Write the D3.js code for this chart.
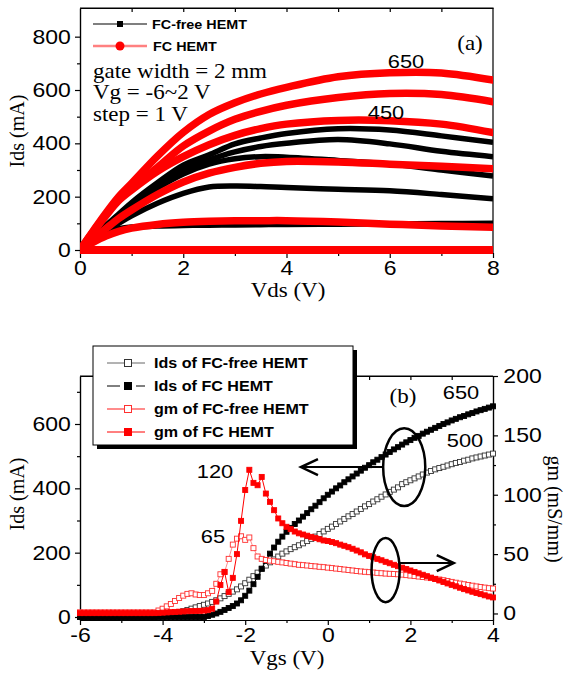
<!DOCTYPE html>
<html>
<head>
<meta charset="utf-8">
<script src="https://cdn.jsdelivr.net/npm/d3@7"></script>
<style>
  body { margin: 0; background: #fff; }
</style>
</head>
<body>
<svg id="chart" width="566" height="673"></svg>
<script>
// ---------- (a) output curves, Ids vs Vds ----------
var vds = [0, 0.25, 0.5, 0.75, 1, 1.5, 2, 2.5, 3, 3.5, 4, 5, 6, 7, 8];

// FC-free HEMT (black), Vg = 2, 1, 0, -1, -2 V, the rest is pinched off
var freeVg2  = [0, 48, 92, 135, 178, 252, 318, 357, 398, 420, 437, 455, 450, 428, 404];
var freeVg1  = [0, 46, 90, 132, 172, 242, 300, 338, 368, 388, 400, 414, 398, 370, 350];
var freeVg0  = [0, 45, 88, 128, 168, 232, 285, 322, 342, 350, 348, 336, 322, 300, 277];
var freeVgM1 = [0, 38, 70, 100, 128, 175, 212, 236, 240, 238, 234, 228, 222, 208, 192];
var freeVgM2 = [0, 40, 68, 80, 86, 90, 92, 93, 94, 95, 96, 97, 98, 99, 100];
var freeOff  = [0, 0, 0, 0, 0, 0, 0, 0, 0, 0, 0, 0, 0, 0, 0];

// FC HEMT (red)
var fcVg2  = [0, 70, 138, 200, 250, 352, 441, 508, 552, 585, 610, 650, 665, 664, 637];
var fcVg1  = [0, 68, 132, 190, 232, 310, 390, 446, 490, 520, 543, 572, 587, 583, 556];
var fcVg0  = [0, 66, 128, 185, 225, 295, 350, 395, 430, 455, 472, 486, 485, 472, 440];
var fcVgM1 = [0, 42, 80, 118, 150, 208, 255, 288, 310, 325, 332, 330, 322, 314, 305];
var fcVgM2 = [0, 28, 52, 70, 82, 96, 104, 108, 110, 110, 110, 105, 97, 90, 85];
var fcOff  = [0, 0, 0, 0, 0, 0, 0, 0, 0, 0, 0, 0, 0, 0, 0];

// ---------- (b) transfer curves, Vgs sweep -6 .. 4 V in 0.1 V steps ----------
var vgs = d3.range(-60, 41).map(function(d) { return d / 10; });

var idsFree = [0, 0, 0, 0, 0, 0, 0, 0, 0, 0, 0, 0, 0, 0, 0, 0, 0, 0, 0,
  2, 3, 5, 8, 11, 15, 18, 22, 26, 30, 34, 38,
  42, 47, 52, 58, 65, 72, 79, 86, 95, 105,
  116, 127, 138, 150, 160, 170, 179, 188, 197, 204,
  211, 217, 223, 229, 236, 243, 250, 258, 266, 274,
  281, 289, 297, 305, 313, 320, 328, 336, 344, 351,
  359, 366, 374, 381, 389, 396, 403, 413, 419, 425,
  431, 437, 443, 449, 454, 459, 463, 467, 471, 475,
  479, 482, 486, 489, 493, 496, 499, 502, 505, 508];

var idsFc = [0, 0, 0, 0, 0, 0, 0, 0, 0, 0, 0, 0, 0, 0, 0, 0, 0, 0, 0, 0,
  0, 0, 0, 0, 0, 0, 0, 0, 0, 0, 0,
  3, 7, 11, 16, 22, 28, 34, 42, 52, 66,
  82, 102, 125, 150, 175, 197, 216, 234, 250, 265,
  277, 289, 300, 312, 323, 335, 346, 357, 369, 380,
  390, 400, 409, 419, 428, 437, 446, 455, 464, 472,
  481, 489, 497, 505, 513, 521, 528, 536, 543, 550,
  557, 563, 570, 576, 582, 588, 594, 600, 605, 611,
  616, 621, 625, 630, 634, 639, 643, 647, 651, 655];

var gmFree = [1, 1, 1, 1, 1, 1, 1, 1, 1, 1, 1, 1, 1, 1, 1, 1, 1, 1, 1,
  2.5, 4, 6, 8, 10.5, 13, 15, 16.5, 17, 16, 15.5, 15.5,
  17, 19, 25, 33, 35, 46, 58, 63, 65, 62,
  64, 55, 48, 46, 45, 44.5, 44, 43.5, 43, 42.5,
  42, 41.5, 41, 40.7, 40.4, 40, 39.7, 39.3, 39, 38.6,
  38.2, 37.8, 37.4, 37, 36.6, 36.2, 35.8, 35.4, 35.1, 34.8,
  34.5, 34.2, 33.9, 33.6, 33.4, 33.2, 33, 32.7, 32.3, 31.9,
  31.5, 31.1, 30.7, 30.3, 29.8, 29.2, 28.6, 28, 27.3, 26.6,
  25.9, 25.2, 24.6, 24, 23.4, 22.8, 22.3, 21.8, 21.3, 21];

var gmFc = [0.3, 0.3, 0.3, 0.3, 0.3, 0.3, 0.3, 0.3, 0.3, 0.3, 0.3, 0.3, 0.3, 0.3, 0.3, 0.3, 0.3, 0.3, 0.3,
  0.5, 0.7, 0.9, 1.1, 1.3, 1.5, 1.7, 1.9, 2.0, 2.1, 2.2, 2.4, 2.8, 4,
  10, 24, 35, 18, 30, 50, 78, 104, 121, 110, 108, 115, 101, 94, 87, 80, 76, 73,
  71, 69, 67.5, 66.5, 65.5, 64.5, 63.5, 62.5, 61.5, 61,
  60.2, 59.2, 58, 57, 55.8, 54.5, 53, 51.5, 49.8, 48.5,
  47.3, 46, 44.8, 43.5, 42.3, 41, 39.8, 38.6, 37.4, 36.2,
  35, 33.8, 32.6, 31.4, 30.2, 29, 27.8, 26.5, 25.3, 24.1,
  22.9, 21.7, 20.5, 19.4, 18.3, 17.3, 16.3, 15.3, 14.3, 13.5];

var SANS = "'Liberation Sans', Arial, sans-serif";
var SERIF = "'Liberation Serif', 'Times New Roman', serif";
var SX = 1.15; // the source picture is a little wider than tall

var svg = d3.select("#chart");
svg.append("rect").attr("width", 566).attr("height", 673).attr("fill", "#fff");

function txt(x, y, s, font, size, anchor, weight) {
  return svg.append("text")
    .attr("transform", "translate(" + x + "," + y + ") scale(" + SX + ",1)")
    .attr("font-family", font)
    .attr("font-size", size)
    .attr("font-weight", weight || "normal")
    .attr("text-anchor", anchor || "start")
    .attr("fill", "#000")
    .text(s);
}

function vtxt(x, y, s, angle) {
  svg.append("text")
    .attr("transform", "translate(" + x + "," + y + ") rotate(" + angle + ")")
    .attr("font-family", SERIF)
    .attr("font-size", 20)
    .attr("text-anchor", "middle")
    .text(s);
}

function styleAxis(g) {
  g.attr("font-family", SANS).attr("font-size", 20);
  g.select(".domain").attr("stroke", "#000").attr("stroke-width", 1.2);
  g.selectAll(".tick line").attr("stroke", "#000").attr("stroke-width", 1.2);
  g.selectAll(".tick text").attr("fill", "#000").attr("transform", "scale(" + SX + ",1)");
}
var fmt = function(d) { return String(d); };

// ================= chart (a) =================
var A = { left: 80, right: 493, top: 8, bottom: 253 };
var xA = d3.scaleLinear().domain([0, 8]).range([A.left, A.right]);
var yA = d3.scaleLinear().domain([-11.25, 907.5]).range([A.bottom, A.top]);

// frame top / right with inner ticks
svg.append("path")
  .attr("d", "M" + A.left + "," + A.top + "H" + A.right + "V" + A.bottom)
  .attr("fill", "none").attr("stroke", "#000").attr("stroke-width", 1.2);
svg.append("g").attr("transform", "translate(0," + A.top + ")")
  .call(d3.axisTop(xA).tickValues([1, 2, 3, 4, 5, 6, 7]).tickSize(-4).tickSizeOuter(0).tickFormat(""))
  .call(styleAxis);

svg.append("g").attr("transform", "translate(0," + A.bottom + ")")
  .call(d3.axisBottom(xA).tickValues([0, 2, 4, 6, 8]).tickSize(5).tickSizeOuter(0).tickPadding(3).tickFormat(fmt))
  .call(styleAxis);
svg.append("g").attr("transform", "translate(0," + A.bottom + ")")
  .call(d3.axisBottom(xA).tickValues([1, 3, 5, 7]).tickSize(3).tickSizeOuter(0).tickFormat(""))
  .call(styleAxis);
svg.append("g").attr("transform", "translate(" + A.left + ",0)")
  .call(d3.axisLeft(yA).tickValues([0, 200, 400, 600, 800]).tickSize(5).tickSizeOuter(0).tickPadding(3).tickFormat(fmt))
  .call(styleAxis);
svg.append("g").attr("transform", "translate(" + A.left + ",0)")
  .call(d3.axisLeft(yA).tickValues([100, 300, 500, 700]).tickSize(3).tickSizeOuter(0).tickFormat(""))
  .call(styleAxis);

var lineA = d3.line()
  .x(function(d, i) { return xA(vds[i]); })
  .y(function(d) { return yA(d); })
  .curve(d3.curveCatmullRom.alpha(0.5));

var clipA = svg.append("clipPath").attr("id", "clipA").append("rect")
  .attr("x", A.left).attr("y", A.top).attr("width", A.right - A.left).attr("height", A.bottom - A.top + 2);

var freeCurves = [freeVg2, freeVg1, freeVg0, freeVgM1, freeVgM2, freeOff, freeOff, freeOff, freeOff];
var fcCurves = [fcVg2, fcVg1, fcVg0, fcVgM1, fcVgM2, fcOff, fcOff, fcOff, fcOff];

var gA = svg.append("g").attr("clip-path", "url(#clipA)");
gA.selectAll(".free").data(freeCurves).enter().append("path")
  .attr("class", "free")
  .attr("d", lineA)
  .attr("fill", "none").attr("stroke", "#000").attr("stroke-width", 5.5);
gA.selectAll(".fc").data(fcCurves).enter().append("path")
  .attr("class", "fc")
  .attr("d", lineA)
  .attr("fill", "none").attr("stroke", "#ff0000").attr("stroke-width", 7.5)
  .attr("stroke-linecap", "round");

// legend (a)
svg.append("line").attr("x1", 93).attr("x2", 147).attr("y1", 24).attr("y2", 24)
  .attr("stroke", "#000").attr("stroke-width", 1.2);
svg.append("rect").attr("x", 117).attr("y", 21).attr("width", 6).attr("height", 6).attr("fill", "#000");
txt(152, 28.5, "FC-free HEMT", SANS, 12.5, "start", "bold");
svg.append("line").attr("x1", 93).attr("x2", 147).attr("y1", 46).attr("y2", 46)
  .attr("stroke", "#ff8080").attr("stroke-width", 2.5);
svg.append("circle").attr("cx", 120).attr("cy", 46).attr("r", 4.5).attr("fill", "#ff0000");
txt(153, 51, "FC HEMT", SANS, 12.5, "start", "bold");

txt(93, 78, "gate width = 2 mm", SERIF, 20);
txt(93, 99, "Vg = -6~2 V", SERIF, 20);
txt(93, 120.5, "step = 1 V", SERIF, 20);
txt(470, 50, "(a)", SERIF, 20, "middle");
txt(406, 68, "650", SANS, 19, "middle");
txt(386, 119, "450", SANS, 19, "middle");

vtxt(24, 131, "Ids (mA)", -90);
txt(288, 297, "Vds (V)", SERIF, 20, "middle");

// ================= chart (b) =================
var B = { left: 80, right: 493, top: 376, bottom: 620 };
var xB = d3.scaleLinear().domain([-6, 4]).range([B.left, B.right]);
var yL = d3.scaleLinear().domain([-9.3, 749.2]).range([B.bottom, B.top]);
var yR = d3.scaleLinear().domain([-5.5, 200]).range([B.bottom, B.top]);

svg.append("line").attr("x1", B.left).attr("x2", B.right).attr("y1", B.top).attr("y2", B.top)
  .attr("stroke", "#000").attr("stroke-width", 1.2);
svg.append("g").attr("transform", "translate(0," + B.top + ")")
  .call(d3.axisTop(xB).tickValues([-5, -4, -3, -2, -1, 0, 1, 2, 3]).tickSize(-4).tickSizeOuter(0).tickFormat(""))
  .call(styleAxis);

svg.append("g").attr("transform", "translate(0," + B.bottom + ")")
  .call(d3.axisBottom(xB).tickValues([-6, -4, -2, 0, 2, 4]).tickSize(5).tickSizeOuter(0).tickPadding(3).tickFormat(fmt))
  .call(styleAxis);
svg.append("g").attr("transform", "translate(0," + B.bottom + ")")
  .call(d3.axisBottom(xB).tickValues([-5, -3, -1, 1, 3]).tickSize(3).tickSizeOuter(0).tickFormat(""))
  .call(styleAxis);
svg.append("g").attr("transform", "translate(" + B.left + ",0)")
  .call(d3.axisLeft(yL).tickValues([0, 200, 400, 600]).tickSize(5).tickSizeOuter(0).tickPadding(3).tickFormat(fmt))
  .call(styleAxis);
svg.append("g").attr("transform", "translate(" + B.left + ",0)")
  .call(d3.axisLeft(yL).tickValues([100, 300, 500, 700]).tickSize(3).tickSizeOuter(0).tickFormat(""))
  .call(styleAxis);
svg.append("g").attr("transform", "translate(" + B.right + ",0)")
  .call(d3.axisRight(yR).tickValues([0, 50, 100, 150, 200]).tickSize(5).tickSizeOuter(0).tickPadding(4).tickFormat(fmt))
  .call(styleAxis);
svg.append("g").attr("transform", "translate(" + B.right + ",0)")
  .call(d3.axisRight(yR).tickValues([25, 75, 125, 175]).tickSize(3).tickSizeOuter(0).tickFormat(""))
  .call(styleAxis);

var seriesB = [
  { vals: idsFree, y: yL, line: "#666", fill: "#fff", stroke: "#333" },
  { vals: idsFc,   y: yL, line: "#000", fill: "#000", stroke: "#000" },
  { vals: gmFree,  y: yR, line: "#ff8c8c", fill: "#fff", stroke: "#ff3030" },
  { vals: gmFc,    y: yR, line: "#ff0000", fill: "#ff0000", stroke: "#ff0000" }
];

var gB = svg.append("g");
seriesB.forEach(function(s) {
  var line = d3.line()
    .x(function(d, i) { return xB(vgs[i]); })
    .y(function(d) { return s.y(d); });
  gB.append("path").datum(s.vals).attr("d", line)
    .attr("fill", "none").attr("stroke", s.line).attr("stroke-width", 1);
  gB.selectAll(null).data(s.vals).enter().append("rect")
    .attr("x", function(d, i) { return xB(vgs[i]) - 2.5; })
    .attr("y", function(d) { return s.y(d) - 2.5; })
    .attr("width", 5).attr("height", 5)
    .attr("fill", s.fill).attr("stroke", s.stroke).attr("stroke-width", 0.9);
});

// ellipses and arrows, placed in data units
var ellIds = { vgs: 1.85, ids: 466, rv: 0.51, ri: 121 };
var ellGm = { vgs: 1.4, gm: 36.5, rv: 0.34, rg: 27 };

svg.append("ellipse")
  .attr("cx", xB(ellIds.vgs)).attr("cy", yL(ellIds.ids))
  .attr("rx", xB(ellIds.rv) - xB(0)).attr("ry", yL(0) - yL(ellIds.ri))
  .attr("fill", "none").attr("stroke", "#000").attr("stroke-width", 2.5);
svg.append("ellipse")
  .attr("cx", xB(ellGm.vgs)).attr("cy", yR(ellGm.gm))
  .attr("rx", xB(ellGm.rv) - xB(0)).attr("ry", yR(0) - yR(ellGm.rg))
  .attr("fill", "none").attr("stroke", "#000").attr("stroke-width", 2.5);

function arrow(x1, x2, y) {
  var dir = x2 < x1 ? 1 : -1;
  svg.append("line").attr("x1", x1).attr("x2", x2).attr("y1", y).attr("y2", y)
    .attr("stroke", "#000").attr("stroke-width", 2);
  svg.append("path")
    .attr("d", "M" + (x2 + dir * 17) + "," + (y - 8) + "L" + x2 + "," + y + "L" + (x2 + dir * 17) + "," + (y + 8))
    .attr("fill", "none").attr("stroke", "#000").attr("stroke-width", 2.5);
}
arrow(xB(ellIds.vgs - ellIds.rv), xB(-0.65), yL(ellIds.ids));
arrow(xB(ellGm.vgs + ellGm.rv), xB(3.05), yR(42.5));

// legend (b), with drop shadow
svg.append("rect").attr("x", 97).attr("y", 350).attr("width", 260).attr("height", 99).attr("fill", "#000");
svg.append("rect").attr("x", 93).attr("y", 346).attr("width", 260).attr("height", 99)
  .attr("fill", "#fff").attr("stroke", "#000").attr("stroke-width", 1);

var legB = [
  { y: 363, label: "Ids of FC-free HEMT", s: seriesB[0], lw: 1, gap: false },
  { y: 386, label: "Ids of FC HEMT", s: seriesB[1], lw: 1, gap: true },
  { y: 409, label: "gm of FC-free HEMT", s: seriesB[2], lw: 2, gap: false },
  { y: 432, label: "gm of FC HEMT", s: seriesB[3], lw: 1, gap: false }
];
legB.forEach(function(l) {
  if (l.gap) {
    svg.append("path").attr("d", "M107," + l.y + "H120M136," + l.y + "H145")
      .attr("stroke", l.s.line).attr("stroke-width", l.lw);
  } else {
    svg.append("line").attr("x1", 107).attr("x2", 145).attr("y1", l.y).attr("y2", l.y)
      .attr("stroke", l.s.line).attr("stroke-width", l.lw);
  }
  svg.append("rect").attr("x", 124.5).attr("y", l.y - 3.5).attr("width", 7).attr("height", 7)
    .attr("fill", l.s.fill).attr("stroke", l.s.stroke).attr("stroke-width", 1);
  txt(154, l.y + 5, l.label, SANS, 14, "start", "bold");
});

txt(403, 403, "(b)", SERIF, 20, "middle");
txt(461, 399, "650", SANS, 19, "middle");
txt(465, 447, "500", SANS, 19, "middle");
txt(215, 478, "120", SANS, 19, "middle");
txt(213, 543, "65", SANS, 19, "middle");

vtxt(24, 494, "Ids (mA)", -90);
vtxt(548, 509, "gm (mS/mm)", 90);
txt(287, 665, "Vgs (V)", SERIF, 20, "middle");
</script>
</body>
</html>
